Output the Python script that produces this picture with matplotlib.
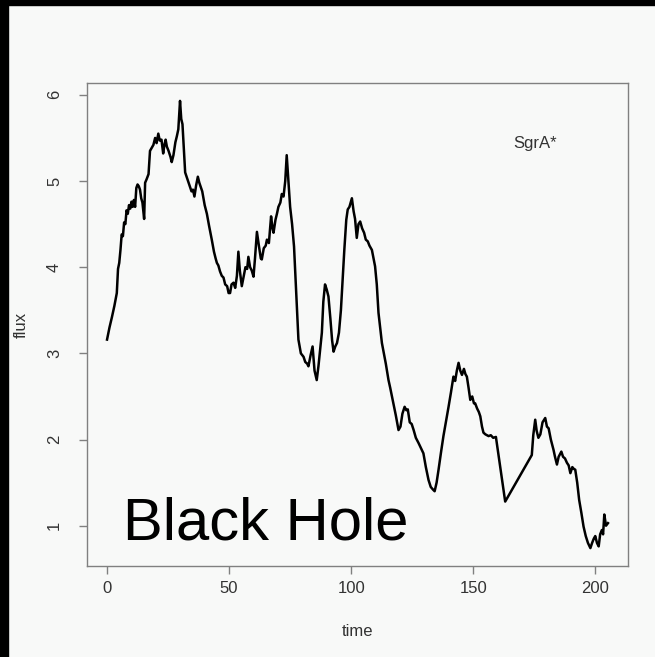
import matplotlib.pyplot as plt
from matplotlib.patches import Rectangle

# light curve
time = [0, 1, 2, 3, 4, 4.5, 5, 5.5, 6, 6.5, 7, 7.5, 8, 8.5, 9, 9.5, 10, 10.5, 11, 11.5,
        12, 12.5, 13, 13.5, 14, 14.5, 15.2, 15.6, 16.2, 17, 17.6, 18.2, 19, 19.7, 20.3,
        21, 21.6, 22.3, 23, 23.5, 24, 24.5, 25.2, 26, 26.5, 27.2, 28, 28.6, 29.2, 29.9,
        30.4, 30.9, 31.4, 32, 32.6, 33.2, 34, 34.6, 35.2, 35.8, 36.5, 37.2, 37.8, 38.5,
        39, 40, 40.9, 41.8, 42.9, 43.8, 44.5, 45, 45.6, 46.3, 47, 47.7, 48.4, 49.2, 49.8,
        50.4, 51, 51.8, 52.5, 53.2, 53.8, 54.4, 55.2, 56, 56.7, 57.4, 57.9, 58.6, 59.3,
        60, 60.6, 61.4, 62.2, 63, 63.4, 64.2, 65, 65.5, 66.3, 67.2, 67.8, 68.2, 69, 69.6,
        70.2, 71, 71.6, 72.3, 73, 73.6, 74.2, 75, 75.8, 76.6, 77.4, 78.4, 79.4, 80.5,
        81.2, 82, 82.5, 83.4, 84.2, 85, 85.9, 86.6, 87.3, 88, 88.6, 89.3, 90, 90.7, 91.5,
        92.2, 92.8, 93.5, 94.2, 95, 95.8, 96.5, 97.2, 98, 98.6, 99.3, 100.3, 101, 101.6,
        102.3, 103, 103.7, 104.5, 105.3, 106, 106.8, 107.5, 108.5, 109.2, 109.8, 110.5,
        111.2, 111.9, 112.6, 113.4, 114.2, 115.3, 116, 117.3, 118.3, 119.4, 120.2, 121,
        121.9, 122.6, 123.2, 124, 124.8, 125.6, 126.5, 127.6, 128.6, 129.6, 130.6, 131.7,
        132.6, 133.5, 134.2, 135, 135.8, 136.8, 137.8, 138.8, 139.9, 140.9, 141.9, 142.6,
        143.3, 144, 144.7, 145.4, 146.2, 146.8, 147.4, 148.1, 148.8, 149.6, 150.3, 150.8,
        151.6, 152.3, 152.9, 153.6, 154.2, 155, 156.3, 157.2, 158.2, 159.3, 163.1, 174,
        174.6, 175.4, 176, 176.7, 177.5, 178.4, 179.5, 180.2, 180.9, 181.8, 182.9, 183.5,
        184.3, 185, 186.1, 186.8, 187.6, 188.4, 189.1, 189.8, 190.6, 191.2, 191.8, 192.6,
        193.4, 194.3, 195.2, 196.1, 197, 198, 198.7, 199.4, 200, 200.7, 201.4, 202, 202.7,
        203.2, 203.7, 204.4, 205.2]
flux = [3.16, 3.30, 3.42, 3.55, 3.70, 3.98, 4.05, 4.20, 4.38, 4.36, 4.52, 4.50, 4.66, 4.62,
        4.72, 4.68, 4.76, 4.70, 4.78, 4.70, 4.92, 4.96, 4.94, 4.90, 4.80, 4.75, 4.56, 4.98,
        5.02, 5.08, 5.35, 5.38, 5.42, 5.50, 5.44, 5.55, 5.47, 5.48, 5.32, 5.42, 5.48, 5.40,
        5.35, 5.28, 5.22, 5.30, 5.45, 5.52, 5.60, 5.93, 5.72, 5.66, 5.40, 5.10, 5.05, 5.00,
        4.93, 4.88, 4.90, 4.82, 4.95, 5.05, 4.98, 4.92, 4.88, 4.72, 4.62, 4.48, 4.32, 4.18,
        4.10, 4.05, 4.02, 3.95, 3.90, 3.88, 3.80, 3.78, 3.70, 3.70, 3.80, 3.82, 3.76, 3.90,
        4.18, 3.96, 3.78, 3.90, 4.00, 3.98, 4.12, 4.00, 3.96, 3.89, 4.10, 4.41, 4.25, 4.10,
        4.09, 4.22, 4.25, 4.32, 4.28, 4.59, 4.45, 4.40, 4.55, 4.62, 4.70, 4.75, 4.85, 4.82,
        5.00, 5.30, 5.05, 4.70, 4.50, 4.24, 3.75, 3.16, 3.00, 2.96, 2.90, 2.88, 2.85, 2.98,
        3.08, 2.80, 2.69, 2.85, 3.05, 3.24, 3.60, 3.80, 3.74, 3.66, 3.40, 3.15, 3.02, 3.08,
        3.12, 3.24, 3.50, 3.85, 4.20, 4.55, 4.67, 4.70, 4.80, 4.65, 4.56, 4.34, 4.50, 4.53,
        4.45, 4.40, 4.32, 4.30, 4.25, 4.20, 4.10, 4.01, 3.80, 3.47, 3.30, 3.12, 3.00, 2.88,
        2.69, 2.60, 2.42, 2.28, 2.11, 2.15, 2.30, 2.38, 2.34, 2.35, 2.20, 2.18, 2.11, 2.02,
        1.96, 1.90, 1.84, 1.68, 1.53, 1.45, 1.42, 1.40, 1.50, 1.65, 1.85, 2.04, 2.20, 2.38,
        2.55, 2.73, 2.68, 2.80, 2.89, 2.80, 2.75, 2.82, 2.76, 2.73, 2.60, 2.46, 2.50, 2.42,
        2.42, 2.36, 2.32, 2.27, 2.15, 2.08, 2.06, 2.04, 2.05, 2.02, 2.03, 1.28, 1.82, 2.05,
        2.23, 2.10, 2.02, 2.06, 2.20, 2.25, 2.15, 2.13, 2.00, 1.88, 1.80, 1.71, 1.80, 1.86,
        1.80, 1.78, 1.73, 1.70, 1.61, 1.68, 1.66, 1.65, 1.50, 1.30, 1.15, 0.99, 0.88, 0.80,
        0.74, 0.80, 0.85, 0.88, 0.80, 0.76, 0.90, 0.95, 0.90, 1.13, 1.00, 1.03]

x_ticks = [0, 50, 100, 150, 200]
y_ticks = [1, 2, 3, 4, 5, 6]

plt.rcParams['font.family'] = ['Liberation Sans', 'DejaVu Sans']

bg = '#f8f9f8'
grey = '#808080'
txt = '#333333'

fig = plt.figure(figsize=(6.55, 6.57), dpi=100, facecolor=bg)
ax = fig.add_axes([87 / 655, 1 - 566 / 657, 541 / 655, 483 / 657])
ax.set_facecolor(bg)

ax.plot(time, flux, color='black', lw=1.8)
ax.margins(x=0.04, y=0.04)

ax.set_xticks(x_ticks)
ax.set_yticks(y_ticks)
for s in ax.spines.values():
    s.set_color(grey)
    s.set_linewidth(1.0)
ax.tick_params(direction='out', length=6, width=1.0, color=grey,
               labelsize=12, labelcolor=txt)
ax.tick_params(axis='x', pad=5)
ax.tick_params(axis='y', pad=12)
for lab in ax.get_yticklabels():
    lab.set_rotation(90)
    lab.set_va('center')

ax.set_xlabel('time', fontsize=12, color=txt, va='center')
ax.set_ylabel('flux', fontsize=12, color=txt, va='center')
ax.xaxis.set_label_coords(0.5, (566 - 632) / 483)
ax.yaxis.set_label_coords((21 - 87) / 541, 0.5)

ax.text(175.4, 5.44, 'SgrA*', fontsize=12, color=txt, ha='center', va='center')
ax.text(6.6, 0.84, 'Black Hole', fontsize=43, color='black', ha='left', va='baseline')

# black slide border on top and left
fig.add_artist(Rectangle((0, 1 - 5 / 657), 1, 5 / 657, transform=fig.transFigure,
                         color='black', zorder=10))
fig.add_artist(Rectangle((0, 0), 8 / 655, 1, transform=fig.transFigure,
                         color='black', zorder=10))

fig.savefig('out.png', dpi=100, facecolor=bg)
